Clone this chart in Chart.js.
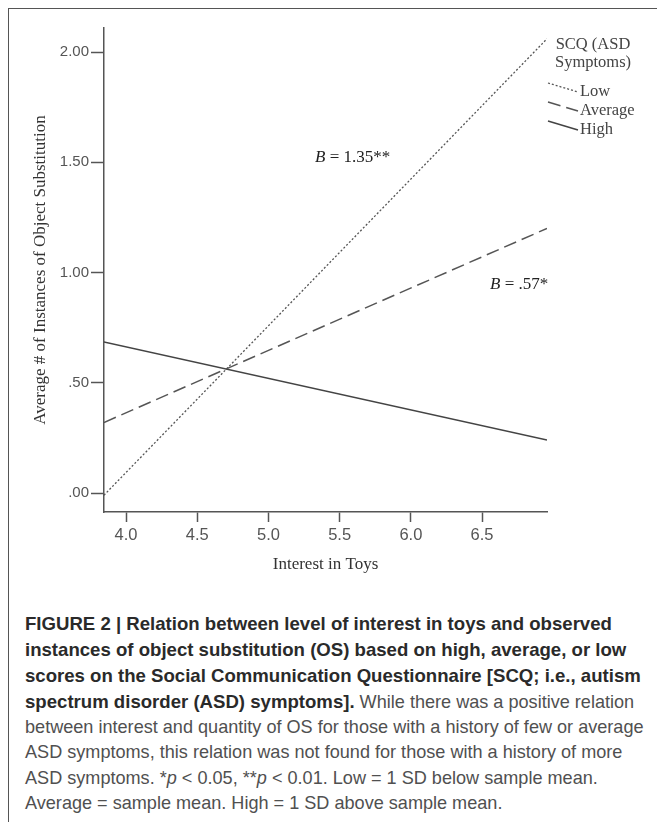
<!DOCTYPE html>
<html lang="en">
<head>
  <meta charset="UTF-8">
  <title>Figure 2</title>
  <script src="https://cdn.jsdelivr.net/npm/chart.js"></script>
  <style>
    body { margin: 0; background: #fff; width: 657px; height: 822px; overflow: hidden; position: relative; }
    .frame { position: absolute; left: 8px; top: 8px; width: 700px; height: 900px;
             border-left: 1.5px solid #555; border-top: 1.5px solid #555; }
    .chart-box { position: absolute; left: 0; top: 0; width: 657px; height: 600px; }
    .caption { position: absolute; left: 25px; top: 611px; font-family: "Liberation Sans", Arial, sans-serif;
               font-size: 18.1px; line-height: 25.1px; color: #505050; white-space: nowrap; }
    .caption b { color: #2a2a2a; font-size: 18.6px; }
  </style>
</head>
<body>
  <div class="frame"></div>
  <div class="chart-box"><canvas id="myChart"></canvas></div>
  <div class="caption">
    <b>FIGURE 2 | Relation between level of interest in toys and observed</b><br>
    <b>instances of object substitution (OS) based on high, average, or low</b><br>
    <b>scores on the Social Communication Questionnaire [SCQ; i.e., autism</b><br>
    <b>spectrum disorder (ASD) symptoms].</b> While there was a positive relation<br>
    between interest and quantity of OS for those with a history of few or average<br>
    ASD symptoms, this relation was not found for those with a history of more<br>
    ASD symptoms. *<i>p</i> &lt; 0.05, **<i>p</i> &lt; 0.01. Low = 1 SD below sample mean.<br>
    Average = sample mean. High = 1 SD above sample mean.
  </div>

  <script>
    // interest in toys (x) at the two ends of each simple slope
    const interest = [3.845, 6.956];
    const lowSCQ = [-0.01, 2.06];
    const averageSCQ = [0.32, 1.20];
    const highSCQ = [0.685, 0.24];

    const seriesNames = ['Low', 'Average', 'High'];
    const legendTitle = ['SCQ (ASD', 'Symptoms)'];
    const yTicks = [0, 0.5, 1, 1.5, 2];
    const xTicks = [4.0, 4.5, 5.0, 5.5, 6.0, 6.5];
    const slopeNotes = [
      { x: 5.327, y: 1.52, value: '1.35**' },
      { x: 6.556, y: 0.945, value: '.57*' }
    ];

    const serif = '"Liberation Serif", "Times New Roman", serif';
    const sans = '"Liberation Sans", Arial, sans-serif';
    const axisGray = '#555';

    function toPoints(ys) {
      return interest.map((x, i) => ({ x: x, y: ys[i] }));
    }

    // legend + B annotations drawn on top of the chart
    const extras = {
      id: 'extras',
      afterDraw(chart) {
        const c = chart.ctx;
        const xs = chart.scales.x, ys = chart.scales.y;
        c.save();
        c.fillStyle = '#222';
        c.textBaseline = 'middle';
        slopeNotes.forEach(n => {
          let px = xs.getPixelForValue(n.x);
          const py = ys.getPixelForValue(n.y);
          c.font = 'italic 17px ' + serif;
          c.textAlign = 'left';
          c.fillText('B', px, py);
          px += c.measureText('B').width;
          c.font = '17px ' + serif;
          c.fillText(' = ' + n.value, px, py);
        });

        // legend
        const lx = chart.chartArea.right + 1;
        c.fillStyle = '#444';
        c.font = '16.5px ' + serif;
        c.textAlign = 'center';
        legendTitle.forEach((t, i) => c.fillText(t, lx + 45, 45 + i * 18));
        c.textAlign = 'left';
        chart.data.datasets.forEach((ds, i) => {
          const y0 = 83 + i * 19;
          c.strokeStyle = ds.borderColor;
          c.lineWidth = ds.borderWidth;
          c.setLineDash(ds.borderDash || []);
          c.beginPath();
          c.moveTo(lx, y0);
          c.lineTo(lx + 30, y0 + 9);
          c.stroke();
          c.setLineDash([]);
          c.fillText(ds.label, lx + 32, y0 + 9);
        });
        c.restore();
      }
    };

    const ctx = document.getElementById('myChart');
    const mychart = new Chart(ctx, {
      type: 'line',
      data: {
        datasets: [
          { label: seriesNames[0], data: toPoints(lowSCQ), borderColor: '#555', borderWidth: 1.3, borderDash: [2, 2] },
          { label: seriesNames[1], data: toPoints(averageSCQ), borderColor: '#555', borderWidth: 1.5, borderDash: [13, 6] },
          { label: seriesNames[2], data: toPoints(highSCQ), borderColor: '#444', borderWidth: 1.5 }
        ]
      },
      options: {
        responsive: true,
        maintainAspectRatio: false,
        animation: false,
        elements: { point: { radius: 0 } },
        layout: { padding: { left: 0, top: 28, right: 110, bottom: 0 } },
        plugins: { legend: { display: false }, tooltip: { enabled: false } },
        scales: {
          x: {
            type: 'linear',
            min: 3.8455,
            max: 6.956,
            afterBuildTicks: s => { s.ticks = xTicks.map(v => ({ value: v })); },
            afterFit: s => { s.height = 88; },
            ticks: { color: '#555', padding: 4, font: { family: sans, size: 16.5 }, callback: v => v.toFixed(1), maxRotation: 0 },
            grid: { drawOnChartArea: false, tickLength: 10, tickWidth: 1.5, tickColor: axisGray },
            border: { color: axisGray, width: 1.5 },
            title: { display: true, text: 'Interest in Toys', color: '#333', font: { family: serif, size: 17 }, padding: { top: 0, bottom: 25 } }
          },
          y: {
            min: -0.086,
            max: 2.109,
            afterBuildTicks: s => { s.ticks = yTicks.map(v => ({ value: v })); },
            afterFit: s => { s.width = 104; },
            ticks: { color: '#555', padding: 2, font: { family: sans, size: 15 },
                     callback: v => v < 1 ? v.toFixed(2).slice(1) : v.toFixed(2) },
            grid: { drawOnChartArea: false, tickLength: 13, tickWidth: 1.5, tickColor: axisGray },
            border: { color: axisGray, width: 1.5 },
            title: { display: true, text: 'Average # of Instances of Object Substitution', color: '#333', font: { family: serif, size: 17 }, padding: { top: 30, bottom: 0 } }
          }
        }
      },
      plugins: [extras]
    });
  </script>
</body>
</html>
